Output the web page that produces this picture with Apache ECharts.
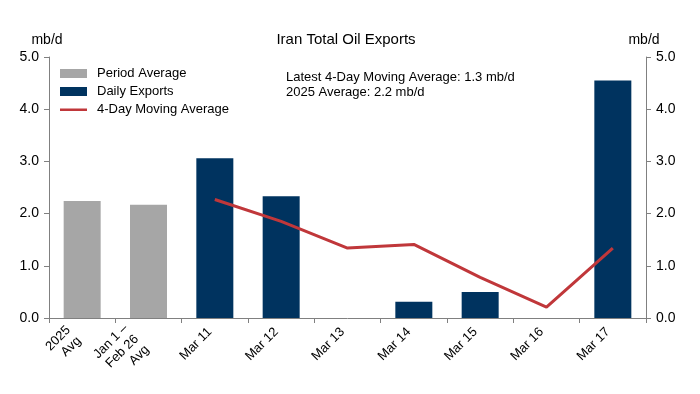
<!DOCTYPE html>
<html>
<head>
<meta charset="utf-8">
<script src="https://cdn.jsdelivr.net/npm/echarts@6/dist/echarts.min.js"></script>
<style>html,body{margin:0;padding:0;background:#fff}#c{width:700px;height:394px}</style>
</head>
<body>
<div id="c"></div>
<script>
const categories = ['2025\nAvg', 'Jan 1 \u2013\nFeb 26\nAvg', 'Mar 11', 'Mar 12', 'Mar 13', 'Mar 14', 'Mar 15', 'Mar 16', 'Mar 17'];
const periodAverage = [2.24, 2.17, null, null, null, null, null, null, null];
const dailyExports = [null, null, 3.06, 2.33, 0, 0.31, 0.50, 0, 4.55];
const movingAverage = [null, null, 2.27, 1.85, 1.34, 1.41, 0.78, 0.21, 1.34];
const yTicks = [0, 1, 2, 3, 4, 5];

const FONT = 'Liberation Sans, Arial, sans-serif';
const chart = echarts.init(document.getElementById('c'), null, {renderer: 'canvas'});
const yAxisBase = (pos) => ({
  type: 'value', position: pos, min: yTicks[0], max: yTicks[yTicks.length - 1], interval: 1,
  axisLine: {show: true, lineStyle: {color: '#808080', width: 1}},
  axisTick: {show: true, length: 5, lineStyle: {color: '#808080'}},
  splitLine: {show: false},
  axisLabel: {color: '#000', fontSize: 14, fontFamily: FONT, margin: 10, formatter: v => v.toFixed(1)}
});
const txt = (size) => ({fontSize: size, fontWeight: 'normal', color: '#000', fontFamily: FONT});
// per-label shift along the rotated text direction, depending on number of lines
const padByLines = [0, 7, 12, 17];
const xData = categories.map(c => {
  const n = c.split('\n').length;
  return {value: c, textStyle: {padding: [0, padByLines[n], 0, 0]}};
});
chart.setOption({
  animation: false,
  backgroundColor: '#fff',
  textStyle: {fontFamily: FONT},
  title: [
    {text: 'Iran Total Oil Exports', left: 346, top: 32, textAlign: 'center', padding: 0, textStyle: txt(15)},
    {text: 'mb/d', left: 47, top: 33, textAlign: 'center', padding: 0, textStyle: txt(14)},
    {text: 'mb/d', left: 644, top: 33, textAlign: 'center', padding: 0, textStyle: txt(14)},
    {text: 'Latest 4-Day Moving Average: 1.3 mb/d\n2025 Average: 2.2 mb/d', left: 286, top: 70, padding: 0,
     textStyle: Object.assign(txt(13), {lineHeight: 15})}
  ],
  legend: {
    orient: 'vertical', left: 60, top: 67, padding: 0, itemWidth: 27, itemHeight: 9, itemGap: 5,
    textStyle: {fontSize: 13, color: '#000', fontFamily: FONT, padding: [0, 0, 0, 5]},
    data: [
      {name: 'Period Average', icon: 'rect'},
      {name: 'Daily Exports', icon: 'rect'},
      {name: '4-Day Moving Average', icon: 'path://M0,0h0.01v0.01h-0.01z M0,3.5h27v2.5h-27z M26.99,8.99h0.01v0.01h-0.01z'}
    ]
  },
  grid: {left: 49, right: 54, top: 57, bottom: 76},
  xAxis: {
    type: 'category', data: xData,
    axisLine: {lineStyle: {color: '#808080'}},
    axisTick: {show: true, length: 5, lineStyle: {color: '#808080'}},
    axisLabel: {rotate: 45, color: '#000', fontSize: 13, fontFamily: FONT, margin: 7, interval: 0, lineHeight: 15}
  },
  yAxis: [yAxisBase('left'), yAxisBase('right')],
  series: [
    {name: 'Period Average', type: 'bar', data: periodAverage, barWidth: 37, barGap: '-100%',
     itemStyle: {color: '#a6a6a6'}},
    {name: 'Daily Exports', type: 'bar', data: dailyExports, barWidth: 37, barGap: '-100%',
     itemStyle: {color: '#00335f'}},
    {name: '4-Day Moving Average', type: 'line', data: movingAverage, symbol: 'none',
     lineStyle: {color: '#c0373a', width: 3}, itemStyle: {color: '#c0373a'}}
  ]
});
</script>
</body>
</html>
